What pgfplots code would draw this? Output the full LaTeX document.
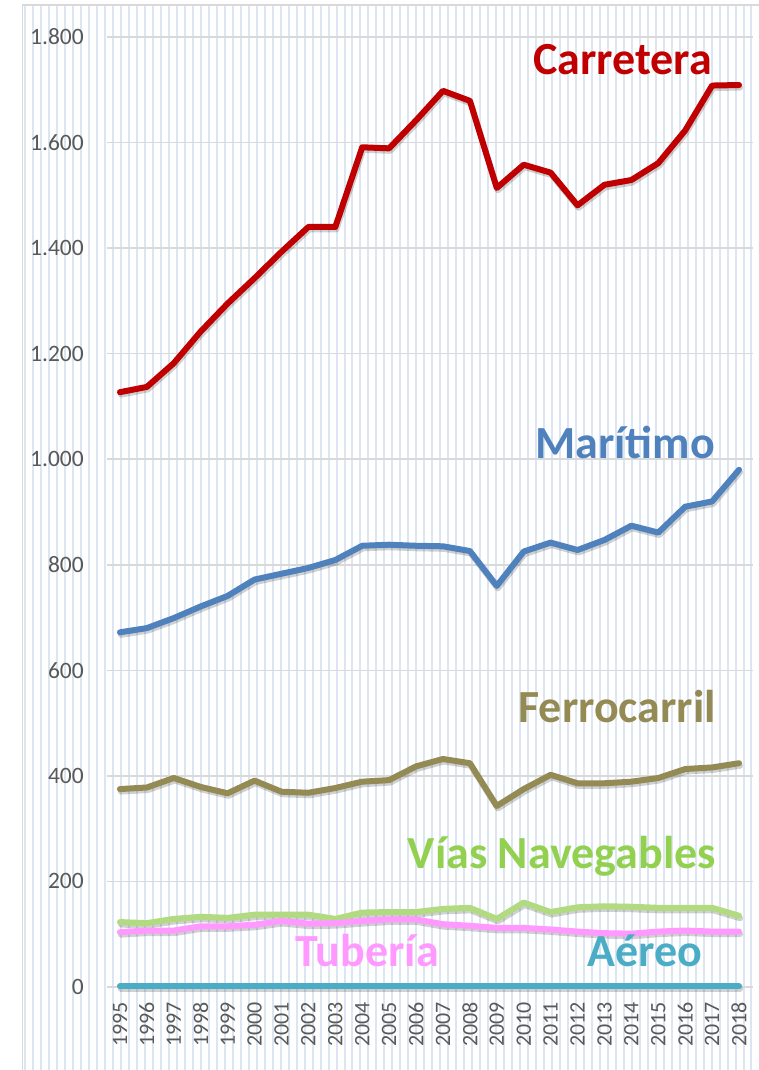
\documentclass[border=0pt]{standalone}
\usepackage{pgfplots}
\pgfplotsset{compat=1.18}
\usepackage{fontspec}
\setmainfont{Carlito}
\definecolor{cRed}{HTML}{C00000}
\definecolor{cBlue}{HTML}{4F81BD}
\definecolor{cOlive}{HTML}{948A54}
\definecolor{cGreenL}{RGB}{178,218,128}
\definecolor{cGreenT}{HTML}{92D050}
\definecolor{cPink}{HTML}{FF99FF}
\definecolor{cTeal}{HTML}{4BACC6}
\definecolor{stripe}{HTML}{DCE6F2}
\definecolor{gridgray}{HTML}{D9D9D9}
\definecolor{tickgray}{HTML}{595959}
\begin{document}
\begin{tikzpicture}[x=1pt,y=1pt]
\useasboundingbox (0,0) rectangle (758,1070);
\fill[white] (0,0) rectangle (758,1070);
\foreach \i in {0,...,91} {
  \draw[stripe, line width=2pt] ({25.3+7.98*\i},0) -- ({25.3+7.98*\i},1064);
}
\draw[gridgray, line width=1.8pt] (22.5,-5) -- (22.5,1065) -- (765,1065);
\begin{axis}[
  scale only axis, width=646pt, height=950pt,
  at={(106.5pt,83pt)}, anchor=south west,
  xmin=-0.5, xmax=23.5, ymin=0, ymax=1800,
  clip=false,
  axis line style={draw=none}, major tick length=0pt,
  xtick={0,...,23},
  xticklabels={1995,1996,1997,1998,1999,2000,2001,2002,2003,2004,2005,2006,2007,2008,2009,2010,2011,2012,2013,2014,2015,2016,2017,2018},
  ytick={0,200,...,1800},
  ymajorgrids, grid style={draw=gridgray, line width=1.5pt},
  yticklabel style={font=\fontsize{23.5}{26}\selectfont, text=tickgray, inner sep=0pt, anchor=east},
  xticklabel style={font=\fontsize{22}{24}\selectfont, text=tickgray, rotate=90, anchor=east, inner sep=0pt},
  xticklabel shift=15pt, yticklabel shift=22.5pt,
  every axis plot/.append style={no marks, line width=6pt, line cap=round, line join=round,
    preaction={draw=black, opacity=0.18, transform canvas={xshift=1pt, yshift=-2.5pt}}},
  /pgf/number format/.cd, 1000 sep={.}, assume math mode=true
]
\addplot[cRed] coordinates {(0,1127)(1,1137)(2,1182)(3,1242)(4,1295)(5,1343)(6,1393)(7,1440)(8,1440)(9,1591)(10,1589)(11,1642)(12,1698)(13,1679)(14,1514)(15,1558)(16,1543)(17,1481)(18,1520)(19,1529)(20,1561)(21,1623)(22,1708)(23,1709)};
\addplot[cBlue] coordinates {(0,672)(1,680)(2,699)(3,721)(4,741)(5,772)(6,783)(7,794)(8,809)(9,836)(10,838)(11,836)(12,835)(13,826)(14,760)(15,825)(16,842)(17,828)(18,847)(19,874)(20,861)(21,910)(22,920)(23,980)};
\addplot[cOlive] coordinates {(0,375)(1,378)(2,396)(3,379)(4,367)(5,391)(6,370)(7,368)(8,377)(9,389)(10,392)(11,418)(12,432)(13,424)(14,343)(15,375)(16,402)(17,386)(18,386)(19,389)(20,396)(21,413)(22,416)(23,424)};
\addplot[cGreenL] coordinates {(0,123)(1,121)(2,129)(3,133)(4,131)(5,137)(6,137)(7,137)(8,129)(9,141)(10,142)(11,142)(12,148)(13,150)(14,129)(15,160)(16,142)(17,151)(18,153)(19,152)(20,150)(21,150)(22,150)(23,135)};
\addplot[cPink] coordinates {(0,104)(1,107)(2,107)(3,115)(4,115)(5,118)(6,125)(7,120)(8,121)(9,125)(10,128)(11,128)(12,119)(13,116)(14,112)(15,112)(16,109)(17,105)(18,102)(19,101)(20,105)(21,107)(22,105)(23,105)};
\addplot[cTeal] coordinates {(0,1)(1,1)(2,1)(3,1)(4,1)(5,1)(6,1)(7,1)(8,1)(9,1)(10,1)(11,1)(12,1)(13,1)(14,1)(15,1)(16,1)(17,1)(18,1)(19,1)(20,1)(21,1)(22,1)(23,1)};
\tikzset{lbl/.style={anchor=base east, inner sep=0pt, font=\bfseries\fontsize{46}{50}\selectfont}}
\node[lbl, text=cRed] at (axis cs:22.0,1728) {Carretera};
\node[lbl, text=cBlue] at (axis cs:22.11,1002) {Marítimo};
\node[lbl, text=cOlive] at (axis cs:22.15,502) {Ferrocarril};
\node[lbl, text=cGreenT] at (axis cs:22.15,225) {Vías Navegables};
\node[lbl, text=cPink] at (axis cs:11.85,38) {Tubería};
\node[lbl, text=cTeal] at (axis cs:21.63,38) {Aéreo};
\end{axis}
\end{tikzpicture}
\end{document}
